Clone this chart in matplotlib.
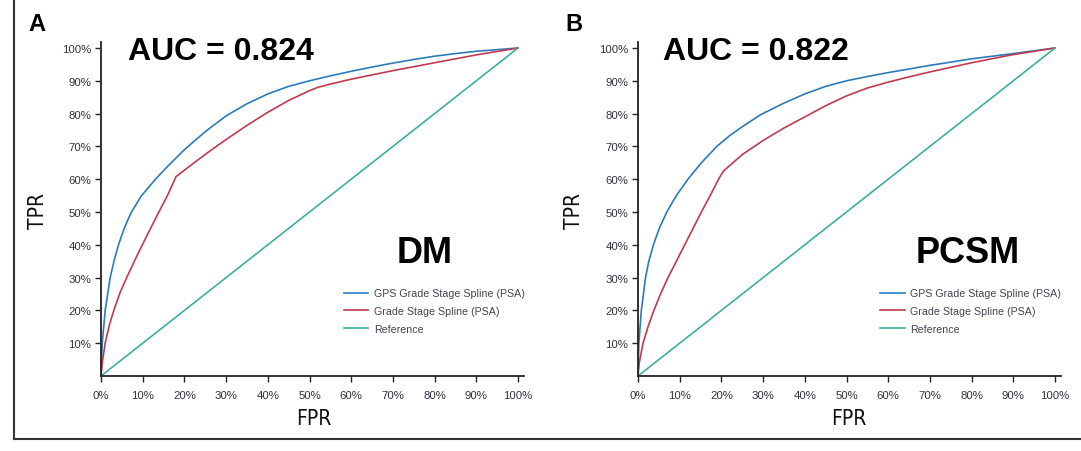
import matplotlib
matplotlib.use("Agg")
import matplotlib.pyplot as plt
from matplotlib.ticker import PercentFormatter
from matplotlib.lines import Line2D

# ---- data (percent) ----
a_gps_fpr = [0, 0.3, 1, 2.2, 3.2, 4.2, 5.5, 7.1, 9.6, 13.2, 16.5, 20, 25, 30, 35, 40, 45, 50, 55, 60, 65, 70, 75, 80, 85, 90, 95, 100]
a_gps_tpr = [0, 10, 20, 30, 35.5, 40, 44.8, 49.5, 54.8, 60.2, 64.6, 69.0, 74.5, 79.3, 83.0, 86.0, 88.3, 90.0, 91.5, 92.9, 94.2, 95.4, 96.5, 97.5, 98.3, 99.0, 99.5, 100]
a_gs_fpr = [0, 0.3, 1, 2, 3.2, 4.6, 6.3, 8, 9.8, 11.8, 13.8, 16, 18, 22, 26, 30, 35, 40, 45, 50, 52, 55, 60, 70, 80, 90, 100]
a_gs_tpr = [0, 4, 10, 15.5, 20.5, 25.5, 30.4, 35, 39.7, 44.8, 49.8, 55.2, 60.8, 64.7, 68.5, 72.1, 76.4, 80.4, 84.0, 87.0, 88.0, 89.0, 90.5, 93.1, 95.5, 97.9, 100]

b_gps_fpr = [0, 0.2, 0.8, 1.8, 2.6, 3.7, 5.1, 6.9, 9.2, 12.1, 15.2, 18.9, 22, 25, 29.3, 35, 40, 45, 50, 55, 60, 70, 80, 90, 100]
b_gps_tpr = [0, 10, 20, 30, 35, 40, 45, 50, 55, 60.2, 65, 70, 73.3, 76, 79.6, 83.2, 86, 88.3, 90, 91.3, 92.5, 94.7, 96.7, 98.3, 100]
b_gs_fpr = [0, 0.3, 1.2, 2.4, 3.8, 5.4, 7.2, 9.2, 11.2, 13.2, 15.2, 17.3, 19.4, 20.5, 25, 30, 35, 40, 45, 50, 55, 60, 65, 70, 80, 90, 100]
b_gs_tpr = [0, 4, 10, 15, 20, 25, 30, 35, 40, 45, 50, 55, 60.2, 62.5, 67.5, 71.8, 75.6, 79, 82.4, 85.4, 87.8, 89.6, 91.2, 92.7, 95.5, 98, 100]

ref_fpr = [0, 100]
ref_tpr = [0, 100]

series_labels = ["GPS Grade Stage Spline (PSA)", "Grade Stage Spline (PSA)", "Reference"]
panel_letters = ["A", "B"]
auc_texts = ["AUC = 0.824", "AUC = 0.822"]
endpoint_texts = ["DM", "PCSM"]
x_ticks = [0, 10, 20, 30, 40, 50, 60, 70, 80, 90, 100]
y_ticks = [10, 20, 30, 40, 50, 60, 70, 80, 90, 100]

BLUE = "#2b7bbb"
RED = "#c23a4e"
TEAL = "#3bb0a1"
TICKC = "#333340"

W, H = 1081, 452
fig = plt.figure(figsize=(W / 100, H / 100), dpi=100)

def fx(px):
    return px / W

def fy(py):
    return (H - py) / H

panels = [
    dict(left=101, gps=(a_gps_fpr, a_gps_tpr), gs=(a_gs_fpr, a_gs_tpr), tpr_x=37.5, fpr_x=313.5,
         letter_xy=(28, 31), auc_xy=(128, 59.5), end_xy=(397, 262.7), leg_x=343.8),
    dict(left=638, gps=(b_gps_fpr, b_gps_tpr), gs=(b_gs_fpr, b_gs_tpr), tpr_x=574.5, fpr_x=849,
         letter_xy=(565, 31), auc_xy=(663, 59.5), end_xy=(916, 262.7), leg_x=880),
]

x0_py = 377.0
unit_x = 417.0
unit_y = 328.0
xmax = 101.5
ymax = 101.8

LABEL_FONT = dict(family="DejaVu Sans", stretch="condensed", fontsize=15, color="#111111")

for i, p in enumerate(panels):
    wpx = unit_x * xmax / 100
    hpx = unit_y * ymax / 100
    ax = fig.add_axes([fx(p["left"]), fy(x0_py), fx(wpx), hpx / H])
    ax.plot(p["gps"][0], p["gps"][1], color=BLUE, lw=1.2, label=series_labels[0], solid_joinstyle="round")
    ax.plot(p["gs"][0], p["gs"][1], color=RED, lw=1.2, label=series_labels[1], solid_joinstyle="round")
    ax.plot(ref_fpr, ref_tpr, color=TEAL, lw=1.2, label=series_labels[2])
    ax.set_xlim(0, xmax)
    ax.set_ylim(0, ymax)
    ax.set_xticks(x_ticks)
    ax.set_yticks(y_ticks)
    ax.xaxis.set_major_formatter(PercentFormatter(100, decimals=0))
    ax.yaxis.set_major_formatter(PercentFormatter(100, decimals=0))
    for s in ["top", "right"]:
        ax.spines[s].set_visible(False)
    for s in ["left", "bottom"]:
        ax.spines[s].set_linewidth(1.3)
        ax.spines[s].set_color("#222222")
    ax.tick_params(axis="both", direction="out", length=4, width=1.0, color="#222222",
                   labelsize=8.2, labelcolor=TICKC)
    ax.tick_params(axis="x", pad=6)
    ax.tick_params(axis="y", pad=3)
    for lab in ax.get_xticklabels() + ax.get_yticklabels():
        lab.set_fontfamily(["Liberation Sans", "DejaVu Sans"])

    leg = ax.legend(loc="upper left",
                    bbox_to_anchor=((p["leg_x"] - p["left"]) / wpx, (x0_py - 289.5) / hpx),
                    frameon=False, fontsize=7.7, handlelength=2.3, handletextpad=0.55,
                    labelspacing=0.72, borderpad=0, borderaxespad=0)
    for t in leg.get_texts():
        t.set_color("#444455")
        t.set_fontfamily(["Liberation Sans", "DejaVu Sans"])

    fig.text(fx(p["letter_xy"][0]), fy(p["letter_xy"][1]), panel_letters[i], fontsize=17,
             fontweight="bold", family=["Liberation Sans", "DejaVu Sans"], ha="left", va="baseline")
    fig.text(fx(p["auc_xy"][0]), fy(p["auc_xy"][1]), auc_texts[i], fontsize=23,
             fontweight="bold", family=["Liberation Sans", "DejaVu Sans"], ha="left", va="baseline")
    fig.text(fx(p["end_xy"][0]), fy(p["end_xy"][1]), endpoint_texts[i], fontsize=26,
             fontweight="bold", family=["Liberation Sans", "DejaVu Sans"], ha="left", va="baseline")
    fig.text(fx(p["tpr_x"]), fy(210.5), "TPR", rotation=90, ha="center", va="center", **LABEL_FONT)
    fig.text(fx(p["fpr_x"]), fy(419), "FPR", ha="center", va="center", **LABEL_FONT)

# figure frame lines (left and bottom)
fig.add_artist(Line2D([fx(14), fx(14)], [fy(0), fy(440)], transform=fig.transFigure,
                      color="#333333", lw=1.5))
fig.add_artist(Line2D([fx(14), fx(1081)], [fy(440), fy(440)], transform=fig.transFigure,
                      color="#333333", lw=1.5))

fig.savefig("out.png", dpi=100)
